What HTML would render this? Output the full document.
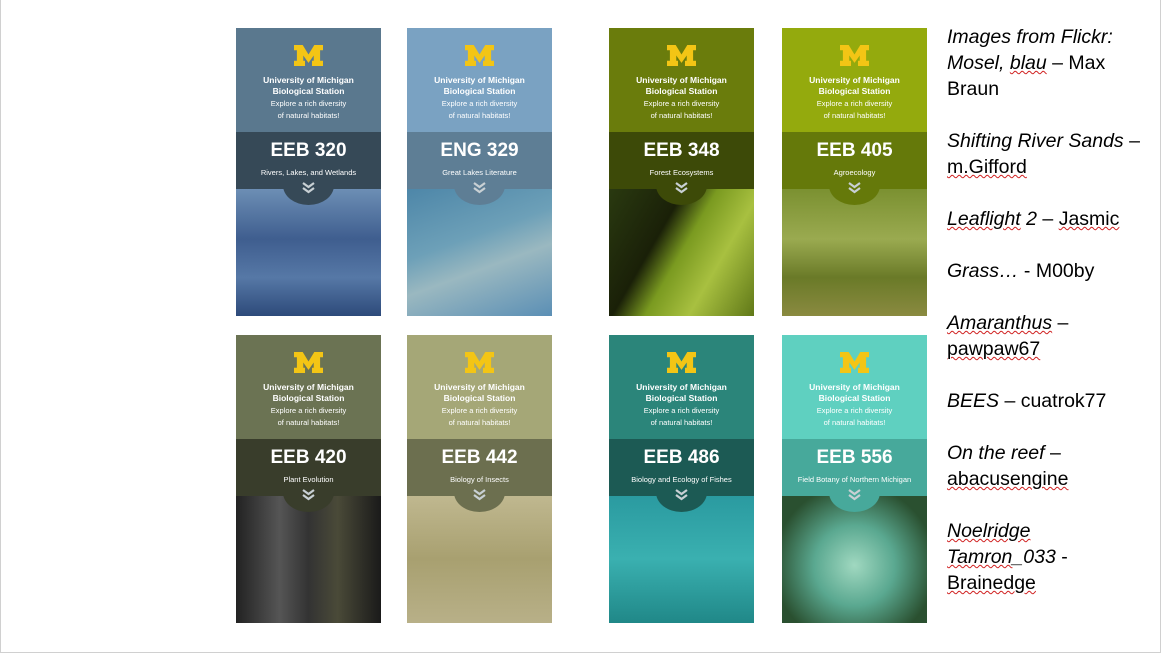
<!DOCTYPE html>
<html><head><meta charset="utf-8"><style>
body{margin:0;width:1161px;height:655px;background:#fff;position:relative;overflow:hidden;font-family:"Liberation Sans",sans-serif}
.slide{position:absolute;left:0;top:0;width:1159px;height:652px;border:1px solid #d0d0d0;border-top:none}
.card{position:absolute;width:145px;height:288px;overflow:hidden;color:#fff;text-align:center}
.top{position:absolute;left:0;top:0;width:100%;height:104px}
.m{position:absolute;left:58px;top:17px;width:29px;height:21px;background:#f3c515;clip-path:polygon(0 0,30% 0,50% 45%,70% 0,100% 0,100% 25%,90% 25%,90% 75%,100% 75%,100% 100%,62% 100%,62% 75%,68% 75%,68% 50%,50% 85%,32% 50%,32% 75%,38% 75%,38% 100%,0 100%,0 75%,10% 75%,10% 25%,0 25%)}
.t1{position:absolute;top:47px;width:100%;font-size:8.5px;font-weight:bold;line-height:11px}
.t2{position:absolute;top:70px;width:100%;font-size:7.5px;line-height:11.5px}
.img{position:absolute;left:0;top:160px;width:100%;height:128px}
.band{position:absolute;left:0;top:104px;width:100%;height:57px}
.notch{position:absolute;left:47px;top:150px;width:51px;height:27px;border-radius:0 0 26px 26px / 0 0 20px 20px}
.code{position:absolute;top:112px;width:100%;font-size:19px;font-weight:bold}
.sub{position:absolute;top:140px;width:100%;font-size:7.5px}
.chev{position:absolute;left:66px;top:154px}
.credits{position:absolute;left:947px;top:24px;font-size:19.5px;line-height:26px;color:#000}
.credits p{margin:0 0 26px 0}
.u{text-decoration:underline wavy #d02020;text-decoration-thickness:1px}
</style></head><body>
<div class="slide"></div>
<div id="cards"></div>
<div class="credits">
<p><i>Images from Flickr:<br>Mosel, <span class="u">blau</span></i> – Max<br>Braun</p>
<p><i>Shifting River Sands</i> –<br><span class="u">m.Gifford</span></p>
<p><i class="u">Leaflight</i><i> 2</i> – <span class="u">Jasmic</span></p>
<p><i>Grass…</i> - M00by</p>
<p><i class="u">Amaranthus</i> –<br><span class="u">pawpaw67</span></p>
<p><i>BEES</i> – cuatrok77</p>
<p><i>On the reef</i> –<br><span class="u">abacusengine</span></p>
<p style="margin:0"><i class="u">Noelridge</i><br><i class="u">Tamron</i><i>_033</i> -<br><span class="u">Brainedge</span></p>
</div>
<script>
const codes=["EEB 320","ENG 329","EEB 348","EEB 405","EEB 420","EEB 442","EEB 486","EEB 556"];
const subs=["Rivers, Lakes, and Wetlands","Great Lakes Literature","Forest Ecosystems","Agroecology","Plant Evolution","Biology of Insects","Biology and Ecology of Fishes","Field Botany of Northern Michigan"];
const xs=[236,407,609,782,236,407,609,782];
const ys=[28,28,28,28,335,335,335,335];
const tops=["#5a788e","#7aa2c2","#6a7c0c","#94aa0d","#6b7353","#a5a777","#2b857a","#5fd0c0"];
const bands=["#364957","#5e7e95","#3d4a08","#65790a","#393d2b","#6c6f4f","#1c5a54","#47a99b"];
const imgs=["linear-gradient(180deg,#6d8fb5,#3f5e8f 40%,#5678a6 70%,#2d4a7a)","linear-gradient(160deg,#4d86a8,#6da0b8 40%,#9ab8c0 60%,#5b8fb5)","linear-gradient(120deg,#2a3a10 0,#1a2008 35%,#7a9a20 50%,#a8c040 70%,#607818)","linear-gradient(180deg,#7a9030,#9aaa50 40%,#6a7a28 70%,#8a8a40)","linear-gradient(90deg,#222 0,#555 30%,#333 50%,#4a4a38 70%,#1a1a1a)","linear-gradient(180deg,#c0b890,#a8a070 50%,#b8b088)","linear-gradient(180deg,#2a9aa0,#3ab0b0 50%,#208888)","radial-gradient(circle at 50% 55%,#a0d8c0,#5aa890 40%,#2a5030 80%)"];
const c=document.getElementById('cards');
for(let i=0;i<8;i++){
 const d=document.createElement('div');
 d.className='card';
 
 
 d.style.left=xs[i]+'px';d.style.top=ys[i]+'px';
 d.innerHTML=`<div class="img" style="background:${imgs[i]}"></div><div class="top" style="background:${tops[i]}"></div><div class="m"></div><div class="t1">University of Michigan<br>Biological Station</div><div class="t2">Explore a rich diversity<br>of natural habitats!</div><div class="band" style="background:${bands[i]}"></div><div class="notch" style="background:${bands[i]}"></div><div class="code">${codes[i]}</div><div class="sub">${subs[i]}</div><svg class="chev" width="13" height="12"><polyline points="1,1 6.5,5 12,1" fill="none" stroke="#c8d0d4" stroke-width="2.2"/><polyline points="1,6 6.5,10 12,6" fill="none" stroke="#c8d0d4" stroke-width="2.2"/></svg>`;
 c.appendChild(d);
}
</script>
</body></html>
